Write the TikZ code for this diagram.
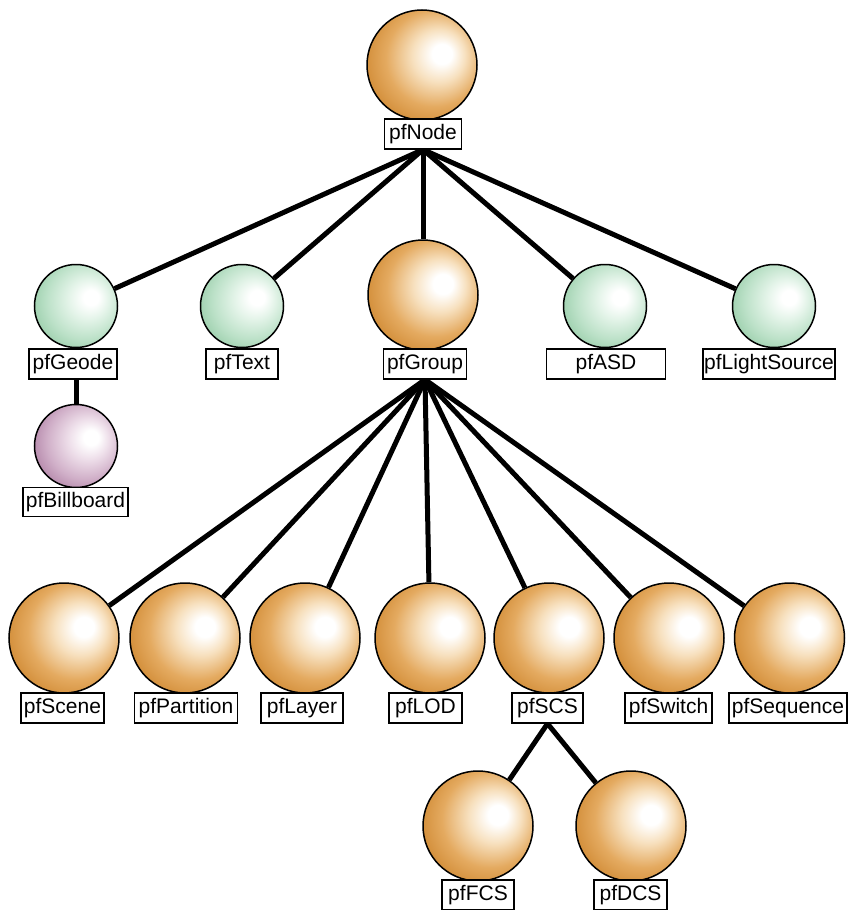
\documentclass[tikz,border=0pt]{standalone}
\usepackage{fontspec}
\setmainfont{Liberation Sans}
\usetikzlibrary{backgrounds}
\definecolor{ora1}{RGB}{198,122,30}
\definecolor{ora2}{RGB}{228,170,96}
\definecolor{ora3}{RGB}{247,224,190}
\definecolor{gre1}{RGB}{132,194,152}
\definecolor{gre2}{RGB}{188,225,200}
\definecolor{gre3}{RGB}{228,244,233}
\definecolor{pur1}{RGB}{158,104,146}
\definecolor{pur2}{RGB}{208,175,200}
\definecolor{pur3}{RGB}{238,223,234}
\pgfdeclareradialshading{orangeball}{\pgfpoint{10bp}{5.5bp}}{color(0bp)=(white); color(4.5bp)=(white); color(12bp)=(ora3); color(22bp)=(ora2); color(36bp)=(ora1); color(50bp)=(ora1)}
\pgfdeclareradialshading{greenball}{\pgfpoint{10bp}{5.5bp}}{color(0bp)=(white); color(4.5bp)=(white); color(12bp)=(gre3); color(23bp)=(gre2); color(37bp)=(gre1); color(50bp)=(gre1)}
\pgfdeclareradialshading{purpleball}{\pgfpoint{10bp}{5.5bp}}{color(0bp)=(white); color(4.5bp)=(white); color(12bp)=(pur3); color(23bp)=(pur2); color(37bp)=(pur1); color(50bp)=(pur1)}
\tikzset{
  ball/.style={circle, draw=black, line width=1.5pt, inner sep=0pt},
  bigball/.style={ball, minimum size=110pt, shading=orangeball},
  greenb/.style={ball, minimum size=83pt, shading=greenball},
  purpb/.style={ball, minimum size=83pt, shading=purpleball},
  lab/.style={draw=black, fill=white, line width=1.2pt, minimum height=30pt, inner sep=1pt, font=\fontsize{21}{24}\selectfont},
  conn/.style={line width=5pt, draw=black}
}
\begin{document}
\begin{tikzpicture}[x=1pt,y=1pt]
\useasboundingbox (0,0) rectangle (851,-910);
% top
\node[bigball] (node) at (422,-65) {};
\node[lab, minimum width=77pt] (nodeL) at (423,-134) {pfNode};
% second row
\node[greenb] (geode) at (76,-306) {};
\node[lab, minimum width=88pt] (geodeL) at (73,-364) {pfGeode};
\node[greenb] (text) at (242,-306) {};
\node[lab, minimum width=72pt] (textL) at (242,-364) {pfText};
\node[bigball] (group) at (423,-295) {};
\node[lab, minimum width=83pt] (groupL) at (425,-364) {pfGroup};
\node[greenb] (asd) at (605,-306) {};
\node[lab, minimum width=119pt] (asdL) at (606,-364) {pfASD};
\node[greenb] (light) at (774,-306) {};
\node[lab, minimum width=132pt] (lightL) at (769,-364) {pfLightSource};
% billboard
\node[purpb] (bill) at (76,-446) {};
\node[lab, minimum width=105pt, minimum height=29pt] (billL) at (75.5,-502) {pfBillboard};
% third row
\node[bigball] (scene) at (64,-638) {};
\node[lab, minimum width=83pt] (sceneL) at (62.5,-708) {pfScene};
\node[bigball] (part) at (185,-638) {};
\node[lab, minimum width=103pt] (partL) at (186,-708) {pfPartition};
\node[bigball] (layer) at (305,-638) {};
\node[lab, minimum width=82pt] (layerL) at (302,-708) {pfLayer};
\node[bigball] (lod) at (430,-638) {};
\node[lab, minimum width=73pt] (lodL) at (425.5,-708) {pfLOD};
\node[bigball] (scs) at (549,-638) {};
\node[lab, minimum width=71pt] (scsL) at (547.5,-708) {pfSCS};
\node[bigball] (switch) at (669,-638) {};
\node[lab, minimum width=87pt] (switchL) at (668.5,-708) {pfSwitch};
\node[bigball] (seq) at (789.5,-638) {};
\node[lab, minimum width=118pt] (seqL) at (788,-708) {pfSequence};
% fourth row
\node[bigball] (fcs) at (478,-826) {};
\node[lab, minimum width=72pt] (fcsL) at (478,-895) {pfFCS};
\node[bigball] (dcs) at (631,-826) {};
\node[lab, minimum width=73pt] (dcsL) at (630.5,-895) {pfDCS};
% connectors
\begin{scope}[on background layer]
\foreach \c in {geode,text,group,asd,light}
  \draw[conn] (nodeL.south) -- (\c);
\draw[conn] (bill |- geodeL.south) -- (bill);
\foreach \c in {scene,part,layer,lod,scs,switch,seq}
  \draw[conn] (groupL.south) -- (\c);
\foreach \c in {fcs,dcs}
  \draw[conn] (scsL.south) -- (\c);
\end{scope}
\end{tikzpicture}
\end{document}
